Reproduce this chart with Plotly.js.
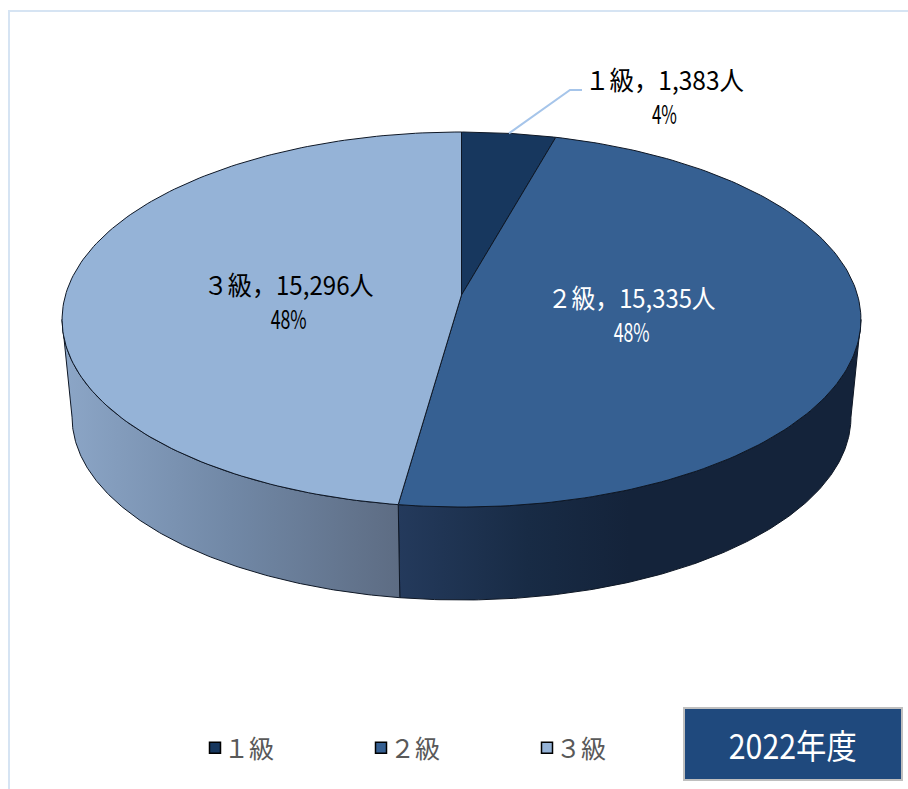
<!DOCTYPE html>
<html><head><meta charset="utf-8">
<script src="https://cdn.plot.ly/plotly-3.0.1.min.js"></script>
<style>html,body{margin:0;padding:0;background:#fff}#c{width:908px;height:789px}</style>
</head><body><div id="c"></div>
<script>
const categories = ['１級', '２級', '３級'];
const counts = [1383, 15335, 15296];
const topColors = ['#17375e', '#366092', '#95b3d7'];
const labelColors = ['#000000', '#ffffff', '#000000'];
const yearLabel = '2022年度';

const FONT = '"Noto Sans CJK JP", sans-serif';
const EDGE = '#0e1725';

// pie projection (a tilted disc seen in perspective), in axis units
const cx = 461.5, apexY = 295, A = 396, B = 184.3, k = 0.1307;
const wallScale = 0.975, wallY = 393.3;
const STEPS = 160;
const rad = d => d * Math.PI / 180;
const topPt = t => { const u = Math.sin(rad(t)), v = -Math.cos(rad(t)), d = 1 - k * v;
  return [cx + A * u / d, apexY + B * v / d]; };
const botPt = t => { const u = Math.sin(rad(t)), v = -Math.cos(rad(t)), d = 1 - k * v;
  return [cx + wallScale * A * u / d, wallY + wallScale * B * v / d]; };
const sweep = (a, b) => Array.from({length: STEPS + 1}, (_, i) => a + (b - a) * i / STEPS);

const total = counts.reduce((a, b) => a + b, 0);
let acc = 0;
const bounds = counts.map(c => { const s = acc; acc += c; return [s / total * 360, acc / total * 360]; });

// silhouette angles where the disc is widest on screen
const tRight = Math.acos(-k) * 180 / Math.PI, tLeft = 360 - tRight;

const wallGradients = {
  1: [[0, '#243a5c'], [0.28, '#182b45'], [0.5, '#14233a'], [1, '#14233a']],
  2: [[0, '#8ca6c7'], [0.5, '#7188a6'], [1, '#5d6c83']]
};

function wallTrace(i, a, b) {
  const ang = sweep(a, b);
  const t = ang.map(topPt), o = ang.map(botPt).reverse();
  const pts = t.concat(o, [t[0]]);
  return {x: pts.map(p => p[0]), y: pts.map(p => p[1]), mode: 'lines', fill: 'toself',
    fillgradient: {type: 'horizontal', colorscale: wallGradients[i]},
    line: {color: EDGE, width: 1}, hoverinfo: 'skip', showlegend: false};
}
function faceTrace(i) {
  const pts = [[cx, apexY]].concat(sweep(bounds[i][0], bounds[i][1]).map(topPt), [[cx, apexY]]);
  return {x: pts.map(p => p[0]), y: pts.map(p => p[1]), mode: 'lines', fill: 'toself',
    fillcolor: topColors[i], line: {color: EDGE, width: 1}, hoverinfo: 'skip', showlegend: false};
}
const traces = [
  wallTrace(1, tRight, bounds[1][1]),
  wallTrace(2, bounds[2][0], tLeft),
  faceTrace(0), faceTrace(1), faceTrace(2)
];
// leader line of the first label
const leaderStart = topPt((bounds[0][0] + bounds[0][1]) / 2);
traces.push({x: [leaderStart[0], 570, 582], y: [leaderStart[1], 90, 90],
  mode: 'lines', line: {color: '#a6c5ea', width: 2}, hoverinfo: 'skip', showlegend: false});
// legend entries
categories.forEach((c, i) => traces.push({x: [null], y: [null], name: c, mode: 'markers',
  marker: {symbol: 'square', size: 11, color: topColors[i], line: {color: '#000', width: 1.5}}}));

const labelPos = [[664.5, 95.5], [631, 313], [288, 300]];
const annotations = categories.map((c, i) => ({
  x: labelPos[i][0], y: labelPos[i][1], xref: 'x', yref: 'y', showarrow: false,
  text: c + '，' + counts[i].toLocaleString('en-US') + '人<br>' + Math.round(counts[i] / total * 100) + '%',
  font: {family: FONT, size: 26, color: labelColors[i]}, align: 'center'
}));
annotations.push({x: 792, y: 744, xref: 'x', yref: 'y', showarrow: false, text: yearLabel,
  font: {family: FONT, size: 34, color: '#ffffff'}});

const layout = {
  width: 908, height: 789, margin: {l: 0, r: 0, t: 0, b: 0},
  paper_bgcolor: '#fff', plot_bgcolor: '#fff',
  xaxis: {range: [0, 908], visible: false, fixedrange: true},
  yaxis: {range: [789, 0], visible: false, fixedrange: true},
  showlegend: true,
  legend: {orientation: 'h', x: 195 / 908, xanchor: 'left', y: 1 - 748 / 789, yanchor: 'middle',
    entrywidth: 121, entrywidthmode: 'pixels', itemwidth: 30, traceorder: 'normal',
    font: {family: FONT, size: 25, color: '#595959'}, bgcolor: 'rgba(0,0,0,0)'},
  shapes: [
    {type: 'path', xref: 'x', yref: 'y', path: 'M 9 789 L 9 11 L 908 11', line: {color: '#d6e4f3', width: 2}, layer: 'below'},
    {type: 'rect', xref: 'x', yref: 'y', x0: 684, x1: 902, y0: 708, y1: 780, fillcolor: '#1f497d', line: {color: '#bfbfbf', width: 2}, layer: 'above'}
  ],
  annotations
};
// the reference type is a condensed face: fit each text line to its width
const lineWidths = [[159, 25], [168, 36], [170, 36], [128]];
Plotly.newPlot('c', traces, layout, {displayModeBar: false, staticPlot: true}).then(() => {
  document.querySelectorAll('#c .annotation-text').forEach((t, i) => {
    const lines = t.querySelectorAll('tspan.line');
    const targets = lines.length ? Array.from(lines) : [t];
    targets.forEach((el, j) => {
      el.setAttribute('textLength', lineWidths[i][j]);
      el.setAttribute('lengthAdjust', 'spacingAndGlyphs');
    });
  });
  document.querySelectorAll('#c .legendtext').forEach(t => {
    t.setAttribute('x', parseFloat(t.getAttribute('x')) - 11);
  });
});
</script></body></html>
